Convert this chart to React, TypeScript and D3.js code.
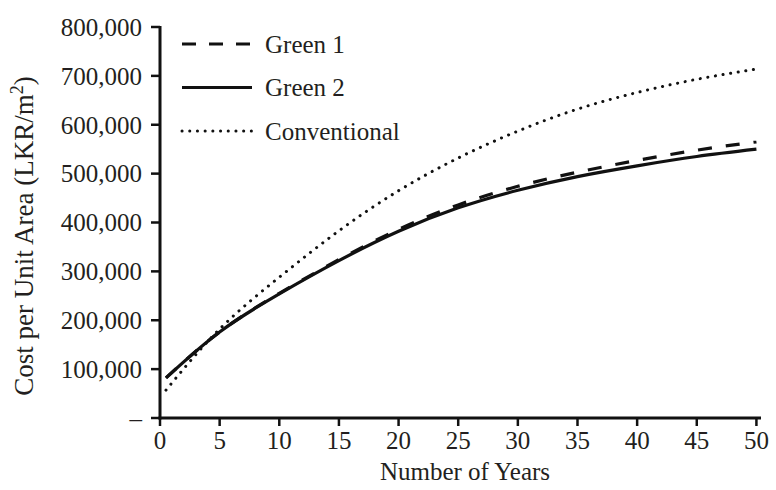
import React from "react";
import * as d3 from "d3";

const years = [0.5, 5, 10, 15, 20, 25, 30, 35, 40, 45, 50];
const green1 = [82000, 176000, 255000, 324000, 386000, 436000, 474000, 503000, 527000, 548000, 565000];
const green2 = [82000, 176000, 254000, 322000, 382000, 430000, 466000, 494000, 516000, 535000, 550000];
const conventional = [57000, 182000, 288000, 383000, 465000, 532000, 587000, 632000, 666000, 693000, 714000];

const xTicks = [0, 5, 10, 15, 20, 25, 30, 35, 40, 45, 50];
const yTicks = [0, 100000, 200000, 300000, 400000, 500000, 600000, 700000, 800000];
const seriesNames = ["Green 1", "Green 2", "Conventional"];

const W = 776, H = 490;
const M = { left: 160, right: 16, top: 27, bottom: 72 };
const FONT = "'Liberation Serif', 'Times New Roman', serif";
const TXT = "#231f20";

export default function App() {
  const x = d3.scaleLinear().domain([0, 50.3]).range([M.left, W - M.right]);
  const y = d3.scaleLinear().domain([0, 800000]).range([H - M.bottom, M.top]);

  const line = d3
    .line<[number, number]>()
    .x((d) => x(d[0]))
    .y((d) => y(d[1]))
    .curve(d3.curveNatural);

  const mk = (vals: number[]) => line(years.map((yr, i) => [yr, vals[i]] as [number, number])) || "";

  const styles = [
    { d: mk(green1), dash: "14 14", width: 3.2, cap: "butt" },
    { d: mk(green2), dash: "none", width: 3.2, cap: "butt" },
    { d: mk(conventional), dash: "0.1 7.6", width: 3, cap: "round" },
  ];

  const fmt = d3.format(",");
  const y0 = y(0);

  return (
    <svg width={W} height={H} style={{ position: "absolute", left: 0, top: 0, background: "#fff" }}>
      <rect width={W} height={H} fill="#fff" />
      {styles.map((s, i) => (
        <path
          key={i}
          d={s.d}
          fill="none"
          stroke="#111"
          strokeWidth={s.width}
          strokeDasharray={s.dash}
          strokeLinecap={s.cap as any}
        />
      ))}
      <line x1={x(0)} x2={x(0)} y1={y(800000) - 1} y2={y0 + 1.5} stroke="#111" strokeWidth={3} />
      <line x1={x(0) - 1.5} x2={W - M.right + 1} y1={y0} y2={y0} stroke="#111" strokeWidth={3} />
      {yTicks.map((t) => (
        <g key={t}>
          <line x1={x(0) - 9} x2={x(0)} y1={y(t)} y2={y(t)} stroke="#111" strokeWidth={2.5} />
          <text
            x={x(0) - 18}
            y={y(t)}
            dy="0.35em"
            textAnchor="end"
            fontFamily={FONT}
            fontSize={25}
            fill={TXT}
          >
            {t === 0 ? "–" : fmt(t)}
          </text>
        </g>
      ))}
      {xTicks.map((t) => (
        <g key={t}>
          <line x1={x(t)} x2={x(t)} y1={y0} y2={y0 + 8} stroke="#111" strokeWidth={2.5} />
          <text x={x(t)} y={y0 + 31} textAnchor="middle" fontFamily={FONT} fontSize={25} fill={TXT}>
            {t}
          </text>
        </g>
      ))}
      <text x={465} y={H - 10} textAnchor="middle" fontFamily={FONT} fontSize={25} fill={TXT}>
        Number of Years
      </text>
      <text
        transform={`translate(33, 236) rotate(-90)`}
        textAnchor="middle"
        fontFamily={FONT}
        fontSize={27}
        fill={TXT}
      >
        Cost per Unit Area (LKR/m
        <tspan dy="-10" fontSize={18}>2</tspan>
        <tspan dy="10">)</tspan>
      </text>
      {seriesNames.map((n, i) => {
        const ly = 44 + i * 43.5;
        const s = styles[i];
        return (
          <g key={n}>
            <line
              x1={182}
              x2={252}
              y1={ly}
              y2={ly}
              stroke="#111"
              strokeWidth={s.width}
              strokeDasharray={i === 0 ? "14 13" : s.dash}
              strokeLinecap={s.cap as any}
            />
            <text x={265} y={ly} dy="0.35em" fontFamily={FONT} fontSize={25} fill={TXT}>
              {n}
            </text>
          </g>
        );
      })}
    </svg>
  );
}
